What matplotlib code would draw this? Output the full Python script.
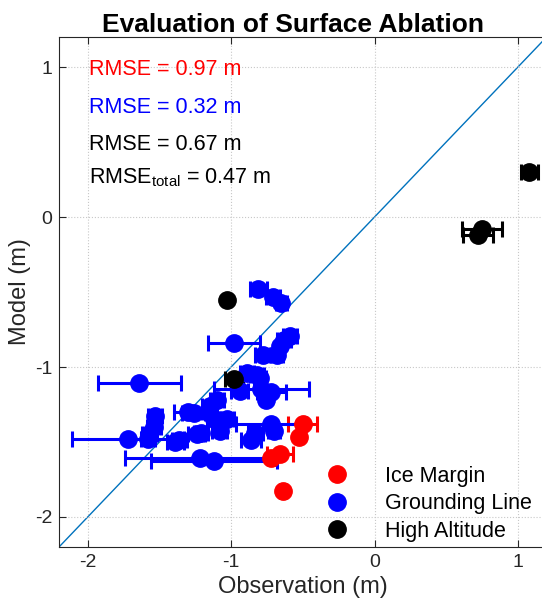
import matplotlib
matplotlib.use("Agg")
import matplotlib.pyplot as plt
from matplotlib.lines import Line2D

plt.rcParams['font.family'] = ['Liberation Sans', 'DejaVu Sans']
plt.rcParams['axes.unicode_minus'] = False

# Ice Margin (x = observation, y = model, xerr = observation uncertainty)
ice_x = [-0.50, -0.53, -0.66, -0.72, -0.64]
ice_y = [-1.38, -1.47, -1.58, -1.61, -1.83]
ice_err = [0.10, 0.0, 0.09, 0.02, 0.02]

# Grounding Line
gl_x = [-0.81, -0.71, -0.65, -0.98, -0.59, -0.63, -0.66, -0.78, -0.68, -1.64,
        -0.89, -0.82, -0.80, -0.94, -0.79, -0.76, -0.72, -1.72, -1.58, -1.53,
        -1.54, -1.57, -1.39, -1.36, -1.26, -1.24, -1.22, -1.12, -1.15, -1.10,
        -1.12, -1.03, -1.21, -1.08, -0.86, -0.83, -0.72, -0.70, -1.30]
gl_y = [-0.48, -0.53, -0.57, -0.84, -0.79, -0.82, -0.86, -0.92, -0.92, -1.11,
        -1.04, -1.05, -1.07, -1.16, -1.15, -1.22, -1.17, -1.48, -1.48, -1.33,
        -1.40, -1.45, -1.50, -1.49, -1.31, -1.45, -1.61, -1.63, -1.26, -1.22,
        -1.35, -1.35, -1.44, -1.43, -1.49, -1.44, -1.38, -1.43, -1.30]
gl_err = [0.06, 0.05, 0.04, 0.18, 0.05, 0.05, 0.0, 0.05, 0.04, 0.29,
          0.05, 0.05, 0.04, 0.06, 0.33, 0.0, 0.10, 0.39, 0.05, 0.05,
          0.05, 0.05, 0.06, 0.05, 0.08, 0.06, 0.52, 0.44, 0.05, 0.05,
          0.05, 0.05, 0.05, 0.05, 0.07, 0.05, 0.245, 0.04, 0.10]

# High Altitude
ha_x = [1.08, 0.75, 0.72, -1.03, -0.98]
ha_y = [0.30, -0.08, -0.12, -0.55, -1.08]
ha_err = [0.06, 0.14, 0.105, 0.0, 0.06]

groups = [
    ("Ice Margin", ice_x, ice_y, ice_err, "red"),
    ("Grounding Line", gl_x, gl_y, gl_err, "blue"),
    ("High Altitude", ha_x, ha_y, ha_err, "black"),
]

rmse_lines = [
    ("RMSE = 0.97 m", "red", 0.947),
    ("RMSE = 0.32 m", "blue", 0.691),
    ("RMSE = 0.67 m", "black", 0.447),
    (r"RMSE$_\mathregular{total}$ = 0.47 m", "black", 0.225),
]

fig = plt.figure(figsize=(5.42, 6.1), dpi=100)
ax = fig.add_axes([0.1089, 0.1033, 0.8996, 0.836])

# linea 1:1
ax.plot([-2.2, 1.2], [-2.2, 1.2], color="#0072BD", lw=1.0, zorder=1)

handles = []
for name, x, y, err, c in groups:
    ax.errorbar(x, y, xerr=err, fmt="o", color=c, ms=12.5, elinewidth=2.2,
                capsize=6, capthick=2.2, zorder=2)
    handles.append(Line2D([], [], ls="none", marker="o", color=c, ms=12.5))

for txt, c, yy in rmse_lines:
    ax.text(-1.993, yy, txt, color=c, fontsize=15.5, va="baseline", ha="left")

ax.set_xlim(-2.2, 1.2)
ax.set_ylim(-2.2, 1.2)
ax.set_xticks([-2, -1, 0, 1])
ax.set_yticks([-2, -1, 0, 1])
ax.grid(True, ls=":", color="#c8c8c8", lw=0.8)
ax.tick_params(direction="in", length=5, top=True, labelsize=14,
               colors="#262626", pad=5)
for s in ax.spines.values():
    s.set_color("#262626")
ax.set_xlabel("Observation (m)", fontsize=17, color="#262626", labelpad=4)
ax.set_ylabel("Model (m)", fontsize=17, color="#262626")
ax.yaxis.set_label_coords(-0.057, 0.5)

fig.text(0.54, 0.9475, "Evaluation of Surface Ablation", fontsize=19,
         fontweight="bold", ha="center", va="baseline")

ax.legend(handles, [g[0] for g in groups], loc="upper left",
          bbox_to_anchor=(0.548, 0.159), frameon=False, fontsize=15.5,
          borderpad=0, borderaxespad=0, handlelength=1, handletextpad=1.72,
          labelspacing=0.3)

fig.savefig("out.png", dpi=100)
